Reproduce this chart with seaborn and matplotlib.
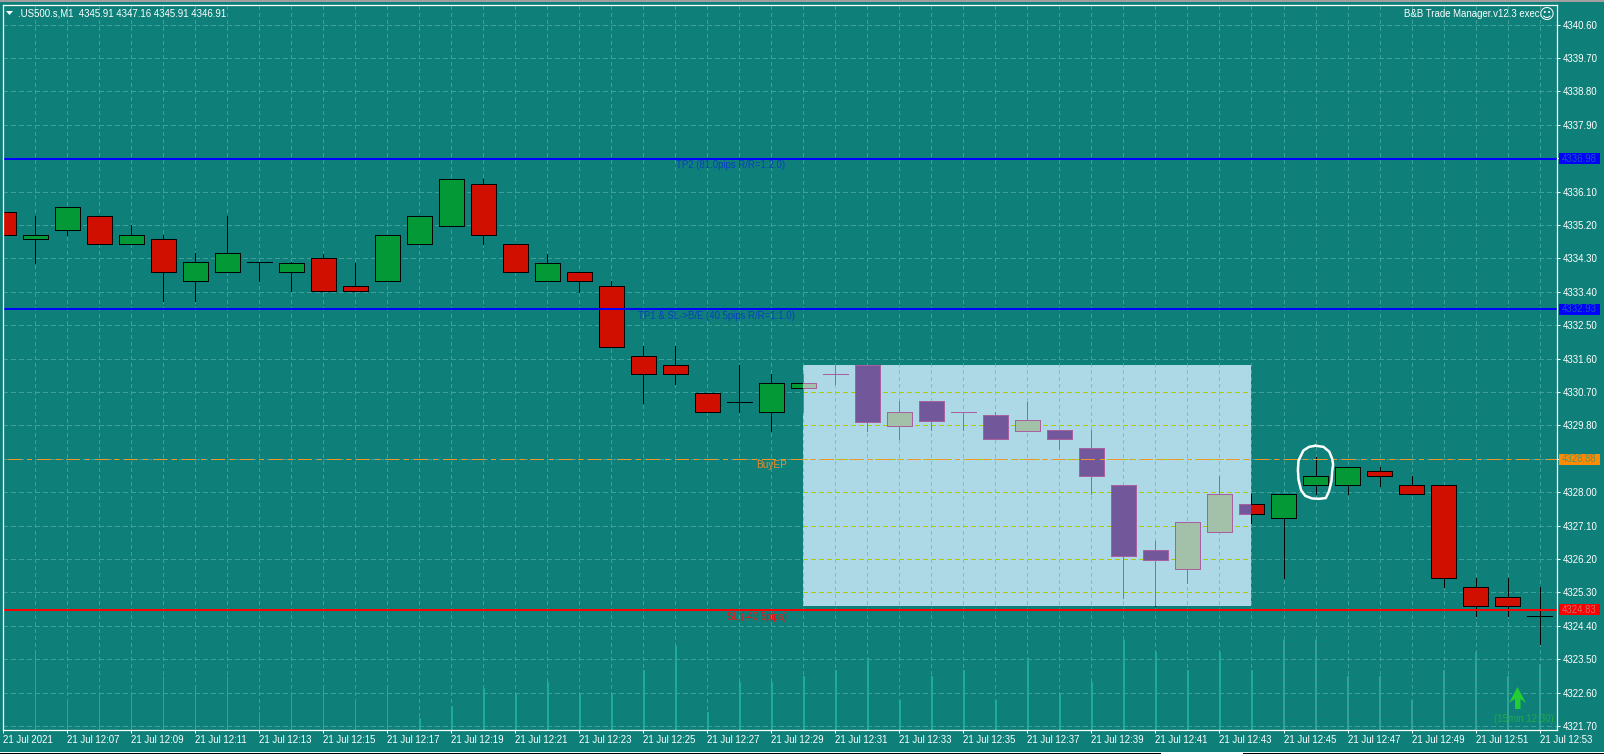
import matplotlib
matplotlib.use("Agg")
import matplotlib.pyplot as plt
from matplotlib.patches import Rectangle, Polygon
import seaborn as sns

W, H = 1604, 755

opens = [4335.54,4334.81,4335.05,4335.43,4334.68,4334.81,4333.68,4333.92,4334.19,4333.92,4334.30,4333.55,4333.68,4334.68,4335.16,4336.29,4334.68,4333.68,4333.92,4333.55,4331.66,4331.42,4330.66,4330.42,4330.17,4330.80,4331.18,4331.43,4329.79,4330.45,4330.17,4330.07,4329.66,4329.67,4329.18,4328.18,4326.43,4325.92,4326.92,4327.67,4327.30,4328.18,4328.18,4328.56,4328.18,4328.18,4325.44,4325.17,4324.67]
highs = [4335.69,4335.44,4335.67,4335.43,4335.20,4334.92,4334.44,4335.44,4334.19,4334.19,4334.42,4334.17,4334.92,4335.43,4336.43,4336.43,4334.68,4334.42,4333.92,4333.69,4331.94,4331.94,4330.66,4331.43,4331.18,4331.18,4331.43,4331.43,4330.45,4330.45,4330.17,4330.17,4330.43,4329.67,4329.67,4328.18,4326.69,4327.19,4328.43,4327.94,4327.94,4328.94,4328.67,4328.67,4328.43,4328.18,4325.69,4325.69,4325.44]
lows = [4334.17,4334.17,4334.92,4334.68,4334.68,4333.16,4333.16,4333.92,4333.68,4333.42,4333.42,4333.42,4333.68,4334.68,4335.16,4334.68,4333.92,4333.68,4333.40,4331.92,4330.41,4330.92,4330.17,4330.17,4329.65,4330.17,4330.92,4329.65,4329.42,4329.67,4329.67,4329.42,4329.66,4329.16,4327.94,4325.14,4324.92,4325.56,4326.92,4327.18,4325.69,4327.94,4327.94,4328.17,4327.94,4325.44,4324.67,4324.67,4323.91]
closes = [4334.92,4334.92,4335.67,4334.68,4334.92,4333.92,4334.19,4334.44,4334.19,4334.17,4333.42,4333.42,4334.92,4335.43,4336.43,4334.92,4333.92,4334.17,4333.68,4331.92,4331.17,4331.17,4330.17,4330.42,4330.93,4330.93,4331.18,4329.90,4330.17,4329.93,4330.17,4329.42,4329.94,4329.42,4328.43,4326.29,4326.18,4327.19,4327.94,4327.42,4327.94,4328.43,4328.67,4328.43,4327.94,4325.69,4324.92,4324.92,4324.67]
volumes = [8,13,5,6,6,9,7,9,3,6,7,5,7,2,4,7,6,8,6,6,10,14,3,8,8,9,10,12,5,9,10,5,12,6,8,15,13,10,13,10,15,15,9,9,5,10,13,9,11]
minutes = list(range(49))
tick_minutes = minutes[::2]
time_labels = ["21 Jul 2021"] + [f"21 Jul 12:{m:02d}" for m in range(7, 54, 2)]
price_ticks = [4340.60,4339.70,4338.80,4337.90,4337.00,4336.10,4335.20,4334.30,4333.40,4332.50,4331.60,4330.70,4329.80,4328.90,4328.00,4327.10,4326.20,4325.30,4324.40,4323.50,4322.60,4321.70]
hidden_ticks = [4337.00, 4328.90]
tp2, tp1, entry, sl = 4336.98, 4332.93, 4328.88, 4324.83
zone_minutes = (25, 39)
zone_prices = (4324.94, 4331.43)
circle_minutes = [41.0,41.25,41.43,41.52,41.55,41.52,41.50,41.42,41.32,41.12,40.89,40.68,40.55,40.47,40.45,40.47,40.62,40.80,41.0]
circle_prices = [4329.25,4329.22,4329.09,4328.90,4328.75,4328.55,4328.30,4328.02,4327.84,4327.82,4327.83,4327.90,4328.05,4328.33,4328.60,4328.85,4329.12,4329.22,4329.25]

TEAL = "#0f8079"
GRID = "#3f9f99"
FS = 6.9
sns.set_theme(style="white")
plt.rcParams["font.family"] = ["Liberation Sans", "DejaVu Sans"]

fig = plt.figure(figsize=(W / 100, H / 100), dpi=100, facecolor=TEAL)
L, R, T, B = 2.8, 1556.8, 4.5, 730.0
pos = [L / W, 1 - B / H, (R - L) / W, (B - T) / H]
ax2 = fig.add_axes(pos, facecolor=TEAL)
ax = ax2.twinx()
ax.set_zorder(ax2.get_zorder() + 1)
ax.patch.set_visible(False)

sns.barplot(x=minutes, y=volumes, native_scale=True, width=0.004, color="#1caa9f",
            saturation=1, ax=ax2, legend=False, linewidth=0.72, edgecolor="#1caa9f", antialiased=False)
ax2.set_ylim(0, 120.9)
ax2.set_xlabel(""); ax2.set_ylabel("")
ax2.tick_params(left=False, right=False, labelleft=False, labelright=False)
for s in ax2.spines.values():
    s.set_visible(False)

XLIM = (-0.019, 48.54)
YLIM = (4321.59, 4341.14)
ax2.set_xlim(*XLIM)
ax.set_ylim(*YLIM)


def grid(color, zorder, clip=None):
    a = ax.hlines(price_ticks, XLIM[0], XLIM[1], colors=color, lw=0.72, linestyles=[(0, (4.5, 3.5))], zorder=zorder, antialiased=False)
    b = ax.vlines(minutes, YLIM[0], YLIM[1], colors=color, lw=0.72, linestyles=[(0, (3.5, 3.5))], zorder=zorder, antialiased=False)
    if clip is not None:
        a.set_clip_path(clip); b.set_clip_path(clip)


def candles(up, down, edge, zorder, clip=None):
    w = ax.vlines(minutes, lows, highs, colors=edge, lw=0.72, zorder=zorder, antialiased=False)
    if clip is not None:
        w.set_clip_path(clip)
    for m, o, c in zip(minutes, opens, closes):
        r = ax.bar(m, abs(c - o), bottom=min(o, c), width=0.76, color=up if c >= o else down,
                   edgecolor=edge, linewidth=0.72, zorder=zorder + 0.1, antialiased=False)
        if clip is not None:
            r[0].set_clip_path(clip)


grid(GRID, 1)
candles("#049937", "#d10f00", "black", 2)
zone = Rectangle((zone_minutes[0], zone_prices[0]), zone_minutes[1] - zone_minutes[0],
                 zone_prices[1] - zone_prices[0], facecolor="#add8e6", edgecolor="none", zorder=3)
ax.add_patch(zone)
grid("#b0cc00", 3.2, clip=zone)
candles("#a3c1a8", "#72579b", "#a8609f", 4, clip=zone)

ax.hlines([tp2, tp1], XLIM[0], XLIM[1], colors="#0000ff", lw=1.44, zorder=6, antialiased=False)
ax.hlines(sl, XLIM[0], XLIM[1], colors="#ff0000", lw=1.44, zorder=6, antialiased=False)
ax.hlines(entry, 0.15, XLIM[1], colors="#f0962a", lw=1.0, linestyles=[(0, (10, 4, 3, 4))], zorder=6, antialiased=False)
ax.plot(circle_minutes, circle_prices, color="white", lw=1.8, zorder=7)
ax.set_xlim(*XLIM)

ax.yaxis.tick_right()
ax.set_yticks(price_ticks)
ax.set_yticklabels(["" if p in hidden_ticks else f"{p:.2f}" for p in price_ticks])
ax.tick_params(axis="y", length=2.5, width=0.72, color="white", labelcolor="white", labelsize=FS, pad=1.5,
               left=False, right=True, labelright=True, labelleft=False)
ax2.set_xticks(tick_minutes)
ax2.set_xticklabels(time_labels, ha="left")
ax2.tick_params(axis="x", length=2.5, width=0.72, color="white", labelcolor="white", labelsize=FS, pad=1.0,
                bottom=True, labelbottom=True)
for s in ax.spines.values():
    s.set_visible(True)
    s.set_color("white")
    s.set_linewidth(0.9)
    s.set_zorder(8)


def fx(x):
    return x / W


def fy(y):
    return 1 - y / H


def ftext(x, y, s, color, size=FS, ha="left", **kw):
    fig.text(fx(x), fy(y), s, color=color, fontsize=size, ha=ha, va="center", zorder=30, **kw)


def box(price, bg, fg):
    y = B - (price - YLIM[0]) / (YLIM[1] - YLIM[0]) * (B - T)
    fig.add_artist(Rectangle((fx(1559), fy(y + 5.5)), 41 / W, 11 / H, transform=fig.transFigure,
                             facecolor=bg, edgecolor="none", zorder=20))
    ftext(1579.5, y, f"{price:.2f}", fg, ha="center")


box(tp2, "#0000ff", "#1a5ab5")
box(tp1, "#0000ff", "#1a5ab5")
box(entry, "#ff8c00", "#5f8f60")
box(sl, "#ff0000", "#c87070")

ftext(731, 165, "TP2 (81.0pips R/R=1:2.0)", "#0a3fc0", ha="center")
ftext(716, 316, "TP1 & SL->B/E (40.5pips R/R=1:1.0)", "#0a3fc0", ha="center")
ftext(772, 465, "BuyEP", "#f08a24", ha="center", size=7.2)
ftext(757, 617, "SL (-40.5pips)", "#f01010", ha="center")
ftext(18, 13, ".US500.s,M1  4345.91 4347.16 4345.91 4346.91", "white")
ftext(1539, 14, "B&B Trade Manager.v12.3 exec", "white", ha="right")
fig.text(fx(1547), fy(14), "\u263a", color="white", fontsize=11, ha="center", va="center",
         family="DejaVu Sans", zorder=30)
ftext(1524, 719, "(15min 12:30)", "#1fa84a", ha="center", size=7.0)


def fpoly(points, color, z=25):
    fig.add_artist(Polygon([(fx(x), fy(y)) for x, y in points], closed=True, transform=fig.transFigure,
                           facecolor=color, edgecolor="none", zorder=z))


fpoly([(6, 11), (13, 11), (9.5, 15)], "white")
fpoly([(1517.5, 687), (1526, 703), (1520.5, 699), (1520.5, 709), (1515, 709), (1515, 699), (1509, 703)], "#22cc33")
# window chrome around the chart
fig.add_artist(Rectangle((0, fy(1.5)), 1, 1.5 / H, transform=fig.transFigure, facecolor="#a0a0a0", edgecolor="none", zorder=25))
fig.add_artist(Rectangle((0, 0), 1, 3.5 / H, transform=fig.transFigure, facecolor="white", edgecolor="none", zorder=25))
fig.add_artist(Rectangle((0, fy(753.5)), 1161 / W, 1 / H, transform=fig.transFigure, facecolor="black", edgecolor="none", zorder=26))
fig.add_artist(Rectangle((fx(1243), fy(753.5)), (W - 1243) / W, 1 / H, transform=fig.transFigure, facecolor="black", edgecolor="none", zorder=26))

fig.savefig("out.png", dpi=100, facecolor=TEAL)
